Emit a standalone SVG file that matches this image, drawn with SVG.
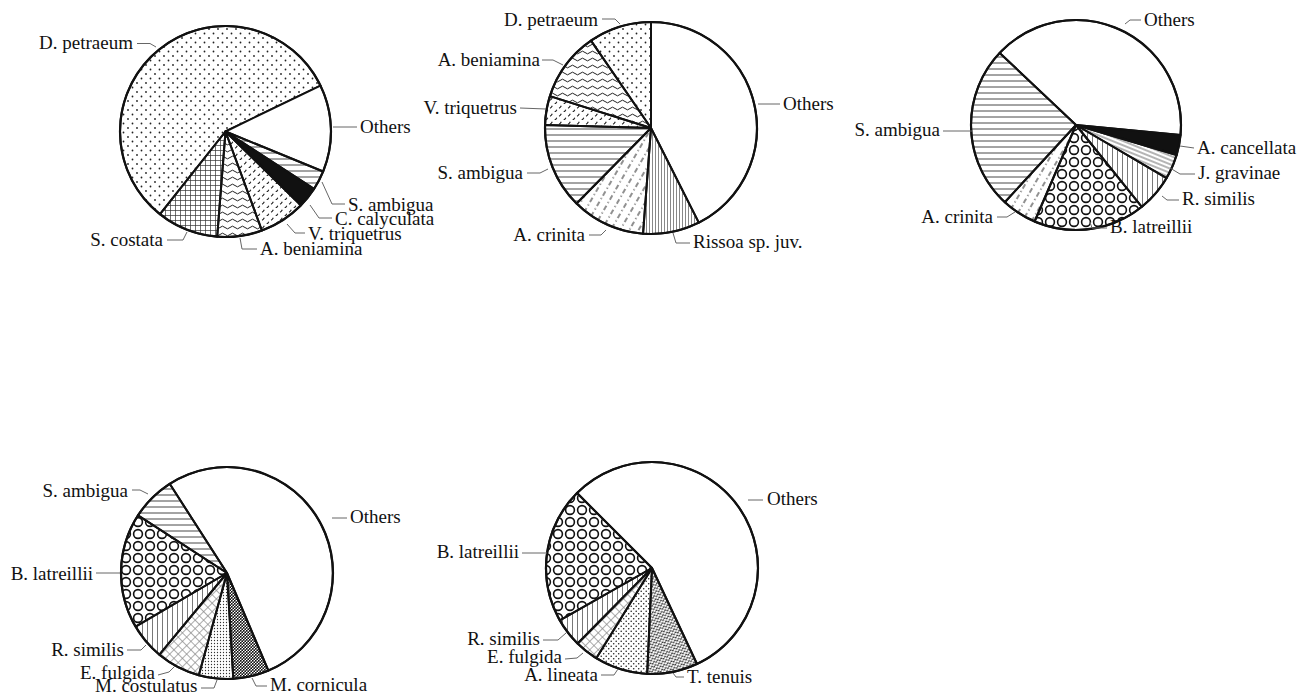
<svg xmlns="http://www.w3.org/2000/svg" width="1315" height="696" viewBox="0 0 1315 696">
<style>
  text { font-family: "Liberation Serif", "Times New Roman", serif; font-size: 19px; fill: #111; }
  .e { text-anchor: end; }
  .ld { fill: none; stroke: #666; stroke-width: 1; }
  .sl { stroke: #111; stroke-width: 2; stroke-linejoin: round; }
  .rim { fill: none; stroke: #111; stroke-width: 2.2; }
</style>
<defs>
  <pattern id="pDots" width="9" height="9" patternUnits="userSpaceOnUse"><circle cx="2" cy="2" r="0.9" fill="#222"/><circle cx="6.5" cy="6.5" r="0.9" fill="#222"/></pattern>
  <pattern id="pHoriz" width="6" height="6" patternUnits="userSpaceOnUse"><path d="M0 3h6" stroke="#333" stroke-width="0.9"/></pattern>
  <pattern id="pDash" width="9" height="8" patternUnits="userSpaceOnUse"><path d="M1 4.2q1.3-0.4 2.3-2.4M5.5 8.2q1.3-0.4 2.3-2.4" fill="none" stroke="#222" stroke-width="1.2"/></pattern>
  <pattern id="pWave" width="10" height="7" patternUnits="userSpaceOnUse"><path d="M0 3.5Q2.5 0.8 5 3.5T10 3.5" fill="none" stroke="#222" stroke-width="1"/></pattern>
  <pattern id="pGrid" width="5" height="5" patternUnits="userSpaceOnUse"><path d="M0 0.5h5M0.5 0v5" stroke="#333" stroke-width="0.7"/></pattern>
  <pattern id="pVertDense" width="3" height="3" patternUnits="userSpaceOnUse"><path d="M1.5 0v3" stroke="#555" stroke-width="0.7"/></pattern>
  <pattern id="pVert" width="5" height="5" patternUnits="userSpaceOnUse"><path d="M2.5 0v5" stroke="#555" stroke-width="0.8"/></pattern>
  <pattern id="pCrinita" width="12" height="8" patternUnits="userSpaceOnUse" patternTransform="rotate(-60)"><path d="M0 4h5M8 4h1.3" stroke="#222" stroke-width="1"/></pattern>
  <pattern id="pCircles" width="12" height="12" patternUnits="userSpaceOnUse"><circle cx="6" cy="6" r="4.4" fill="none" stroke="#111" stroke-width="1.6"/></pattern>
  <pattern id="pDiag" width="4" height="4" patternUnits="userSpaceOnUse" patternTransform="rotate(22)"><path d="M0 2h4" stroke="#444" stroke-width="0.8"/></pattern>
  <pattern id="pCross" width="6" height="6" patternUnits="userSpaceOnUse" patternTransform="rotate(45)"><path d="M0 0.5h6M0.5 0v6" stroke="#888" stroke-width="0.7"/></pattern>
  <pattern id="pFineDots" width="3" height="3" patternUnits="userSpaceOnUse"><circle cx="1.5" cy="1.5" r="0.65" fill="#333"/></pattern>
  <pattern id="pMedDots" width="5" height="5" patternUnits="userSpaceOnUse"><circle cx="1.2" cy="1.2" r="0.8" fill="#222"/><circle cx="3.7" cy="3.7" r="0.8" fill="#222"/></pattern>
  <pattern id="pDarkDots" width="3" height="3" patternUnits="userSpaceOnUse"><circle cx="0.75" cy="0.75" r="0.95" fill="#111"/><circle cx="2.25" cy="2.25" r="0.95" fill="#111"/></pattern>
  <pattern id="pZig" width="4" height="3.5" patternUnits="userSpaceOnUse" patternTransform="rotate(-25)"><path d="M0 1.75L1 0.6L2 1.75L3 2.9L4 1.75" fill="none" stroke="#222" stroke-width="0.9"/></pattern>
</defs>

<!-- Pie 1 -->
<g id="pie1">
  <path class="sl" fill="url(#pDots)" d="M225.5 131.5L160 214.2A105.5 105.5 0 1 1 320.5 85.6Z"/>
  <path class="sl" fill="#fff" d="M225.5 131.5L320.5 85.6A105.5 105.5 0 0 1 323.1 171.5Z"/>
  <path class="sl" fill="url(#pHoriz)" d="M225.5 131.5L323.1 171.5A105.5 105.5 0 0 1 314 188.95Z"/>
  <path class="sl" fill="#111" d="M225.5 131.5L314 188.95A105.5 105.5 0 0 1 300.8 205.4Z"/>
  <path class="sl" fill="url(#pDash)" d="M225.5 131.5L300.8 205.4A105.5 105.5 0 0 1 261.9 230.5Z"/>
  <path class="sl" fill="url(#pWave)" d="M225.5 131.5L261.9 230.5A105.5 105.5 0 0 1 217.2 236.7Z"/>
  <path class="sl" fill="url(#pGrid)" d="M225.5 131.5L217.2 236.7A105.5 105.5 0 0 1 160 214.2Z"/>
  <circle class="rim" cx="225.5" cy="131.5" r="105.5"/>
  <text x="133" y="49" class="e">D. petraeum</text>
  <text x="360" y="133">Others</text>
  <text x="348" y="211">S. ambigua</text>
  <text x="335" y="225">C. calyculata</text>
  <text x="308" y="240">V. triquetrus</text>
  <text x="260" y="255">A. beniamina</text>
  <text x="163" y="246" class="e">S. costata</text>
</g>

<!-- Pie 2 -->
<g id="pie2">
  <path class="sl" fill="#fff" d="M651 128L651 22A106 106 0 0 1 698.8 222.6Z"/>
  <path class="sl" fill="url(#pVertDense)" d="M651 128L698.8 222.6A106 106 0 0 1 643.05 233.7Z"/>
  <path class="sl" fill="url(#pCrinita)" d="M651 128L643.05 233.7A106 106 0 0 1 576.6 203.5Z"/>
  <path class="sl" fill="url(#pHoriz)" d="M651 128L576.6 203.5A106 106 0 0 1 545 125Z"/>
  <path class="sl" fill="url(#pDash)" d="M651 128L545 125A106 106 0 0 1 549.9 96.1Z"/>
  <path class="sl" fill="url(#pWave)" d="M651 128L549.9 96.1A106 106 0 0 1 591 40.6Z"/>
  <path class="sl" fill="url(#pDots)" d="M651 128L591 40.6A106 106 0 0 1 651 22Z"/>
  <circle class="rim" cx="651" cy="128" r="106"/>
  <text x="598" y="26" class="e">D. petraeum</text>
  <text x="540" y="66" class="e">A. beniamina</text>
  <text x="517" y="114" class="e">V. triquetrus</text>
  <text x="523" y="179" class="e">S. ambigua</text>
  <text x="585" y="241" class="e">A. crinita</text>
  <text x="693" y="248">Rissoa sp. juv.</text>
  <text x="783" y="110">Others</text>
</g>

<!-- Pie 3 -->
<g id="pie3">
  <path class="sl" fill="#fff" d="M1076 125L999.7 52.9A105 105 0 0 1 1180.5 134.9Z"/>
  <path class="sl" fill="#111" d="M1076 125L1180.5 134.9A105 105 0 0 1 1176.6 155Z"/>
  <path class="sl" fill="url(#pDiag)" d="M1076 125L1176.6 155A105 105 0 0 1 1166.6 178.1Z"/>
  <path class="sl" fill="url(#pVert)" d="M1076 125L1166.6 178.1A105 105 0 0 1 1141.8 206.8Z"/>
  <path class="sl" fill="url(#pCircles)" d="M1076 125L1141.8 206.8A105 105 0 0 1 1034.6 221.5Z"/>
  <path class="sl" fill="url(#pCrinita)" d="M1076 125L1034.6 221.5A105 105 0 0 1 1004.8 202.2Z"/>
  <path class="sl" fill="url(#pHoriz)" d="M1076 125L1004.8 202.2A105 105 0 0 1 999.7 52.9Z"/>
  <circle class="rim" cx="1076" cy="125" r="105"/>
  <text x="1144" y="26">Others</text>
  <text x="940" y="136" class="e">S. ambigua</text>
  <text x="1197" y="154">A. cancellata</text>
  <text x="1198" y="179">J. gravinae</text>
  <text x="1182" y="205">R. similis</text>
  <text x="1110" y="233">B. latreillii</text>
  <text x="993" y="223" class="e">A. crinita</text>
</g>

<!-- Pie 4 -->
<g id="pie4">
  <path class="sl" fill="#fff" d="M227 573L169.7 483.8A106 106 0 1 1 268.4 670.6Z"/>
  <path class="sl" fill="url(#pDarkDots)" d="M227 573L268.4 670.6A106 106 0 0 1 233.3 678.8Z"/>
  <path class="sl" fill="url(#pFineDots)" d="M227 573L233.3 678.8A106 106 0 0 1 198.8 675.2Z"/>
  <path class="sl" fill="url(#pCross)" d="M227 573L198.8 675.2A106 106 0 0 1 159.4 654.7Z"/>
  <path class="sl" fill="url(#pVert)" d="M227 573L159.4 654.7A106 106 0 0 1 135.6 626.6Z"/>
  <path class="sl" fill="url(#pCircles)" d="M227 573L135.6 626.6A106 106 0 0 1 138 515.4Z"/>
  <path class="sl" fill="url(#pHoriz)" d="M227 573L138 515.4A106 106 0 0 1 169.7 483.8Z"/>
  <circle class="rim" cx="227" cy="573" r="106"/>
  <text x="128" y="497" class="e">S. ambigua</text>
  <text x="350" y="523">Others</text>
  <text x="93" y="580" class="e">B. latreillii</text>
  <text x="124" y="656" class="e">R. similis</text>
  <text x="80" y="679">E. fulgida</text>
  <text x="95" y="692">M. costulatus</text>
  <text x="270" y="691">M. cornicula</text>
</g>

<!-- Pie 5 -->
<g id="pie5">
  <path class="sl" fill="#fff" d="M652 568L577.05 493.05A106 106 0 1 1 697 664Z"/>
  <path class="sl" fill="url(#pZig)" d="M652 568L697 664A106 106 0 0 1 647.2 673.9Z"/>
  <path class="sl" fill="url(#pMedDots)" d="M652 568L647.2 673.9A106 106 0 0 1 596.3 658.2Z"/>
  <path class="sl" fill="url(#pCross)" d="M652 568L596.3 658.2A106 106 0 0 1 577.6 643.5Z"/>
  <path class="sl" fill="url(#pVert)" d="M652 568L577.6 643.5A106 106 0 0 1 559.8 620.4Z"/>
  <path class="sl" fill="url(#pCircles)" d="M652 568L559.8 620.4A106 106 0 0 1 577.05 493.05Z"/>
  <circle class="rim" cx="652" cy="568" r="106"/>
  <text x="767" y="505">Others</text>
  <text x="519" y="558" class="e">B. latreillii</text>
  <text x="540" y="645" class="e">R. similis</text>
  <text x="562" y="663" class="e">E. fulgida</text>
  <text x="598" y="681" class="e">A. lineata</text>
  <text x="687" y="683">T. tenuis</text>
</g>

<!-- Leader lines -->
<g id="connectors">
  <path class="ld" d="M137 43.5H150L156 47"/>
  <path class="ld" d="M333 127H357"/>
  <path class="ld" d="M322 182L332 204H345"/>
  <path class="ld" d="M310 205L319 218H332"/>
  <path class="ld" d="M287 224L295 233H305"/>
  <path class="ld" d="M240 238L242 249H257"/>
  <path class="ld" d="M167 240H183L187 232"/>

  <path class="ld" d="M602 19H615L620 24"/>
  <path class="ld" d="M542 60H553L563 65"/>
  <path class="ld" d="M520 108L546 109"/>
  <path class="ld" d="M527 173H540L548 169"/>
  <path class="ld" d="M589 235H601L606 230"/>
  <path class="ld" d="M673 233L676 243H690"/>
  <path class="ld" d="M758 104H780"/>

  <path class="ld" d="M1125 24L1130 20H1141"/>
  <path class="ld" d="M943 131H972"/>
  <path class="ld" d="M1180 146L1194 148"/>
  <path class="ld" d="M1170 168L1180 174H1195"/>
  <path class="ld" d="M1162 196L1167 200H1179"/>
  <path class="ld" d="M1090 222L1092 228H1107"/>
  <path class="ld" d="M997 217H1007L1015 212"/>

  <path class="ld" d="M132 490H140L148 494"/>
  <path class="ld" d="M332 518H347"/>
  <path class="ld" d="M96 573H120"/>
  <path class="ld" d="M127 650H141L146 645"/>
  <path class="ld" d="M158 675L169 672L175 666"/>
  <path class="ld" d="M201 688H214L217 680"/>
  <path class="ld" d="M252 678L256 686H267"/>

  <path class="ld" d="M748 500H763"/>
  <path class="ld" d="M522 553H547"/>
  <path class="ld" d="M543 640H558L566 633"/>
  <path class="ld" d="M565 659L577 658L583 653"/>
  <path class="ld" d="M601 675H614L618 669"/>
  <path class="ld" d="M673 673L676 677H684"/>
</g>
</svg>
